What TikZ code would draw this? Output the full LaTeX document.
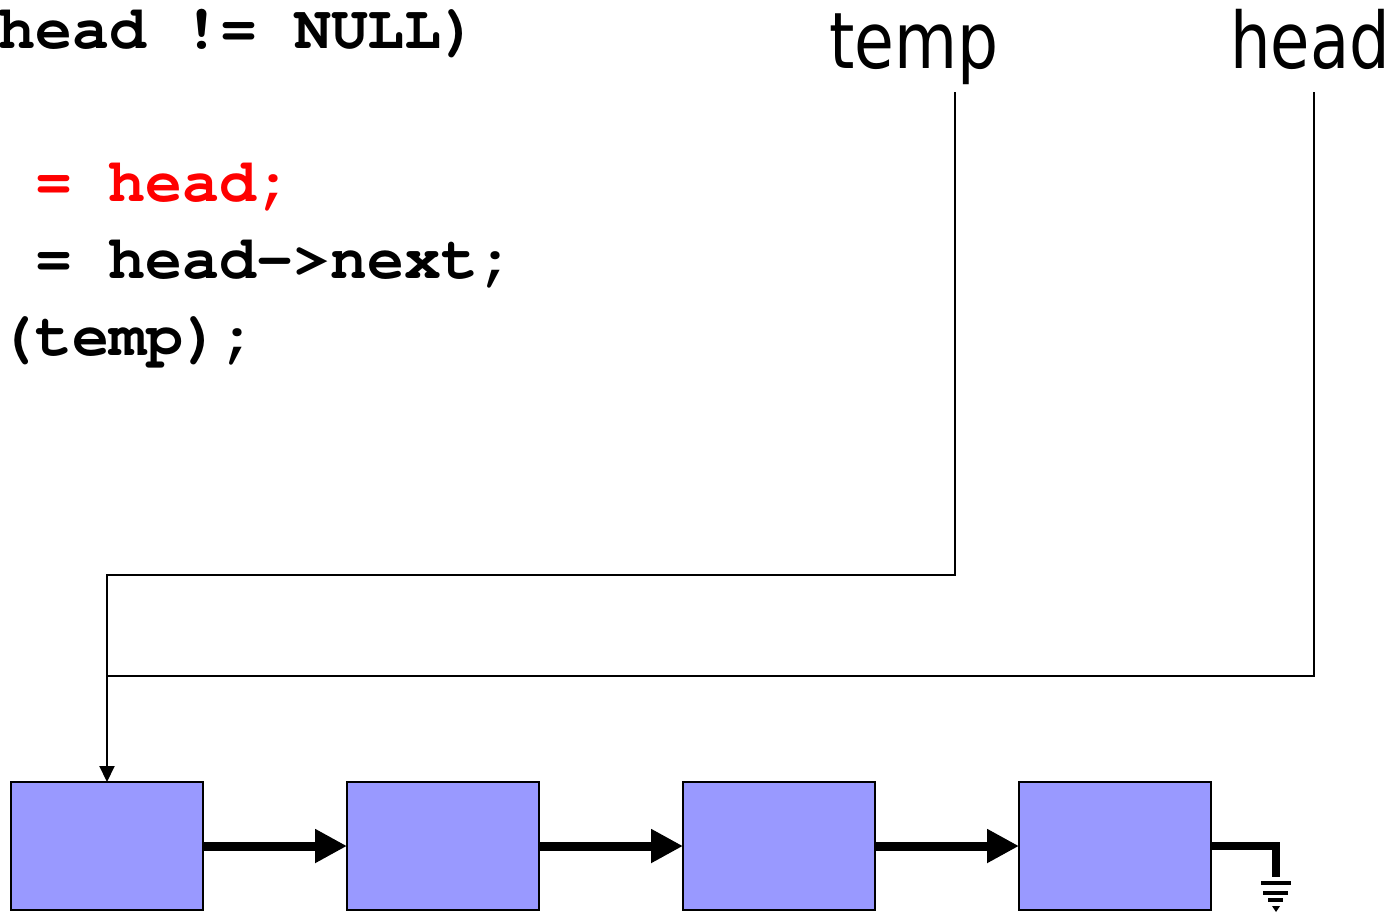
\documentclass[tikz,border=0pt]{standalone}
\usepackage[T1]{fontenc}
\usepackage{fontspec}
\usepackage{graphicx}
\newfontfamily\varfont{DejaVu Sans}
\newcommand\courierbold{\fontencoding{T1}\fontfamily{pcr}\fontseries{b}\selectfont}
\usetikzlibrary{arrows.meta}
\definecolor{cellblue}{HTML}{9999FF}
\definecolor{codered}{HTML}{FF0000}

\begin{document}
\begin{tikzpicture}[x=0.5pt, y=-0.5pt,
  cell/.style={draw, line width=1pt, fill=cellblue, minimum width=96pt, minimum height=64pt, inner sep=0pt, outer sep=0pt},
  link/.style={line width=4.5pt, -{Triangle[length=16pt,width=16pt]}},
  ptr/.style={line width=1pt},
  code/.style={anchor=base west, inner sep=0pt, font=\courierbold\fontsize{30.8pt}{36pt}\selectfont},
  var/.style={anchor=base west, inner sep=0pt, font=\varfont\fontsize{39pt}{46pt}\selectfont}]
\useasboundingbox (0,0) rectangle (1398,912);

% code lines
\node[code] (c1) at (-2,48) {head != NULL)};
\node[code, text=codered] (c2) at (34.6,201) {= head;};
\node[code] (c3) at (34.6,278) {= head->next;};
\node[code] (c4) at (-2,355) {(temp);};

% variable names
\node[var] (vtemp) at (829,68) {\scalebox{0.83}[1]{temp}};
\node[var] (vhead) at (1230,68) {\scalebox{0.82}[1]{head}};
\coordinate (ptemp) at (955,92);
\coordinate (phead) at (1314,92);

% the list
\node[cell] (n0) at (107,846) {};
\node[cell] (n1) at (443,846) {};
\node[cell] (n2) at (779,846) {};
\node[cell] (n3) at (1115,846) {};
\draw[link] (n0) -- (n1);
\draw[link] (n1) -- (n2);
\draw[link] (n2) -- (n3);

% pointers into the list
\coordinate (tj) at (107,575);
\coordinate (hj) at (107,676);
\draw[ptr, -{Triangle[length=8pt,width=7.5pt]}] (ptemp) |- (tj) -- (n0.north);
\draw[ptr] (phead) |- (hj);

% null at the end
\coordinate (gnd) at (1276,877);
\draw[line width=4pt] (n3.east) -| (gnd);
\begin{scope}[shift={(gnd)}, line width=1.6pt]
\draw (-15,6) -- (15,6);
\draw (-13,16) -- (12,16);
\draw (-8,23) -- (7,23);
\fill (-4,29) -- (4,29) -- (0,35) -- cycle;
\end{scope}
\end{tikzpicture}
\end{document}
